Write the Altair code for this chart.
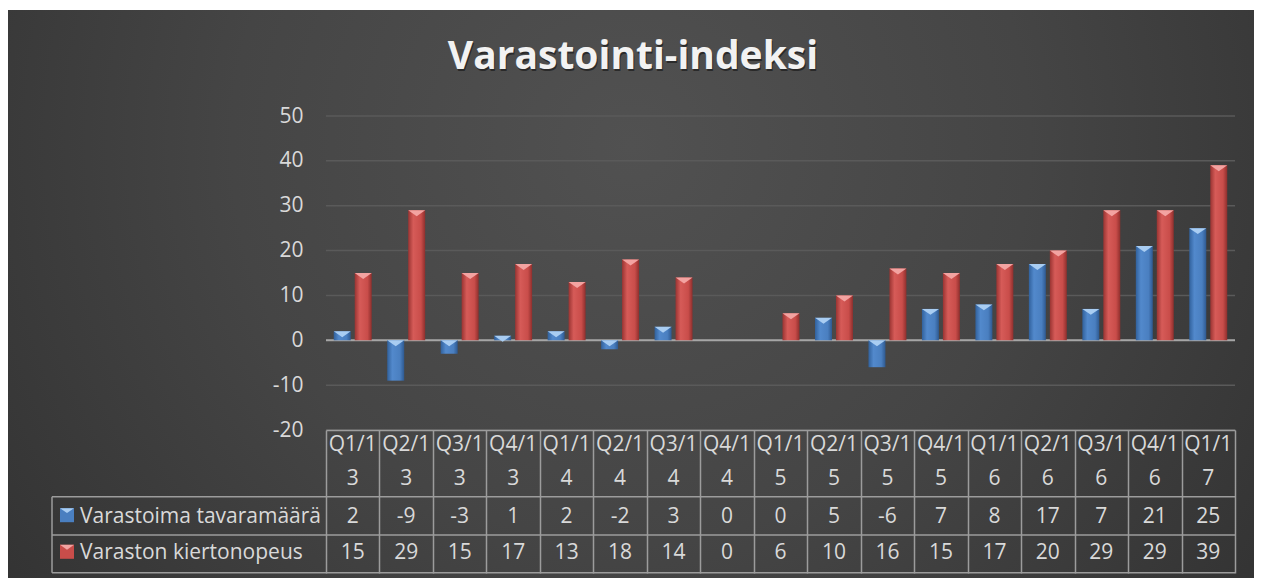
import altair as alt
import pandas as pd

# ---------------- data ----------------
quarters = ["Q1/13", "Q2/13", "Q3/13", "Q4/13", "Q1/14", "Q2/14", "Q3/14", "Q4/14",
            "Q1/15", "Q2/15", "Q3/15", "Q4/15", "Q1/16", "Q2/16", "Q3/16", "Q4/16", "Q1/17"]
stored_goods = [2, -9, -3, 1, 2, -2, 3, 0, 0, 5, -6, 7, 8, 17, 7, 21, 25]
turnover_rate = [15, 29, 15, 17, 13, 18, 14, 0, 6, 10, 16, 15, 17, 20, 29, 29, 39]
series_names = ["Varastoima tavaramäärä", "Varaston kiertonopeus"]
y_ticks = [-20, -10, 0, 10, 20, 30, 40, 50]
chart_title = "Varastointi-indeksi"

# ---------------- style / layout ----------------
FONT = "Open Sans"
TXT = "#d9d9d9"
LINE = "#9c9c9c"
GRID = "#5a5a5a"
PL, PT, W, H, PR, PB = 318, 108, 909, 314, 19, 148

df = pd.DataFrame({
    "q": quarters * 2,
    "series": [series_names[0]] * len(quarters) + [series_names[1]] * len(quarters),
    "value": stored_goods + turnover_rate,
})
df["top"] = df["value"].clip(lower=0)
df["label"] = df["value"].astype(str)
df["head1"] = df["q"].str[:4]
df["head2"] = df["q"].str[4:]
one = pd.DataFrame({"z": [0]})
grid_df = pd.DataFrame({"g": y_ticks})

base = alt.Chart(df)

x_enc = alt.X(
    "q:N", sort=None, title=None,
    scale=alt.Scale(domain=quarters, paddingInner=0, paddingOuter=0),
    axis=alt.Axis(labels=False, grid=False, domain=True, domainColor=LINE, domainWidth=1.5,
                  ticks=True, tickBand="extent", tickSize=143, tickColor=LINE, tickWidth=1.5,
                  zindex=1),
)
xo_enc = alt.XOffset("series:N", scale=alt.Scale(domain=series_names, paddingInner=0.19, paddingOuter=0.37))
y_scale = alt.Scale(domain=[-20, 50], nice=False, zero=False)
y_axis = alt.Axis(values=y_ticks, title=None, grid=False, domain=False, ticks=False, tickSize=0,
                  labelPadding=23, labelFont=FONT, labelFontSize=21, labelColor=TXT,
                  labelExpr="'' + datum.value", zindex=1)

bg_grad = alt.RadialGradient(
    gradient="radial",
    stops=[alt.GradientStop(color="#515151", offset=0),
           alt.GradientStop(color="#454545", offset=0.4),
           alt.GradientStop(color="#282828", offset=1)],
    x1=0.5, y1=0.38, r1=0, x2=0.5, y2=0.38, r2=0.8,
)
background = alt.Chart(one).mark_rect(color=bg_grad).encode(
    x=alt.value(-PL), x2=alt.value(W + PR), y=alt.value(-106), y2=alt.value(H + PB)
)

gridlines = alt.Chart(grid_df).mark_rule(color=GRID, strokeWidth=1.5).encode(
    y=alt.Y("g:Q", scale=y_scale, axis=y_axis)
)
zero_line = alt.Chart(one).mark_rule(color="#a6a6a6", strokeWidth=2).encode(
    y=alt.Y("z:Q", scale=y_scale, axis=y_axis)
)


def hgrad(dark, light, mid, dark2):
    return alt.LinearGradient(
        gradient="linear",
        stops=[alt.GradientStop(color=dark, offset=0),
               alt.GradientStop(color=light, offset=0.3),
               alt.GradientStop(color=mid, offset=0.75),
               alt.GradientStop(color=dark2, offset=1)],
        x1=0, x2=1, y1=0, y2=0,
    )


blue_grad = hgrad("#31619c", "#5289cc", "#4a7fc0", "#2e5990")
red_grad = hgrad("#9a3432", "#d65b58", "#c94d4a", "#8e2f2d")
TRI = "M-1,0L1,0L0,0.7Z"


def series_layers(i, grad, hi):
    s = series_names[i]
    bars = base.transform_filter(alt.datum.series == s).mark_bar(color=grad).encode(
        x=x_enc, xOffset=xo_enc, y=alt.Y("value:Q", scale=y_scale, axis=y_axis)
    )
    tri = base.transform_filter((alt.datum.series == s) & (alt.datum.value != 0)).mark_point(
        shape=TRI, size=289, filled=True, color=hi, opacity=1, strokeWidth=0
    ).encode(x=x_enc, xOffset=xo_enc, y=alt.Y("top:Q", scale=y_scale, axis=y_axis))
    return [bars, tri]


bar_layers = series_layers(0, blue_grad, "#a9cdf2") + series_layers(1, red_grad, "#f3a3a1")

# ---------------- data table ----------------
ROW_Y = [400.7, 437.3]
heads = base.transform_filter(alt.datum.series == series_names[0])
head1 = heads.mark_text(font=FONT, fontSize=21, color=TXT, baseline="middle").encode(
    x=x_enc, y=alt.value(329), text="head1:N")
head2 = heads.mark_text(font=FONT, fontSize=21, color=TXT, baseline="middle").encode(
    x=x_enc, y=alt.value(363.3), text="head2:N")

table_layers = [head1, head2]
legend_colors = [("#4a7fc0", "#a9cdf2"), ("#c94d4a", "#f3a3a1")]
for i, s in enumerate(series_names):
    table_layers.append(
        base.transform_filter(alt.datum.series == s).mark_text(
            font=FONT, fontSize=21, color=TXT, baseline="middle"
        ).encode(x=x_enc, y=alt.value(ROW_Y[i]), text="label:N")
    )
    table_layers.append(
        alt.Chart(one).mark_point(shape="square", size=196, filled=True, color=legend_colors[i][0],
                                  opacity=1, strokeWidth=0).encode(
            x=alt.value(-259), y=alt.value(ROW_Y[i] - 1.5))
    )
    table_layers.append(
        alt.Chart(one).mark_point(shape=TRI, size=196, filled=True, color=legend_colors[i][1],
                                  opacity=1, strokeWidth=0).encode(
            x=alt.value(-259), y=alt.value(ROW_Y[i] - 8.5))
    )
    table_layers.append(
        alt.Chart(one).mark_text(font=FONT, fontSize=21, color=TXT, align="left",
                                 baseline="middle", text=s).encode(
            x=alt.value(-246), y=alt.value(ROW_Y[i]))
    )

for yv in [380.7, 419, 456.7]:
    table_layers.append(
        alt.Chart(one).mark_rule(color=LINE, strokeWidth=1.5).encode(
            x=alt.value(-274), x2=alt.value(W), y=alt.value(yv))
    )
table_layers.append(
    alt.Chart(one).mark_rule(color=LINE, strokeWidth=1.5).encode(
        x=alt.value(-274), y=alt.value(380.7), y2=alt.value(456.7))
)

# ---------------- title ----------------
title_shadow = alt.Chart(one).mark_text(
    text=chart_title, font=FONT, fontSize=39, fontWeight="bold", color="#000000",
    opacity=0.45, align="center", baseline="alphabetic", dx=1, dy=2
).encode(x=alt.value(307), y=alt.value(-47))
title = alt.Chart(one).mark_text(
    text=chart_title, font=FONT, fontSize=39, fontWeight="bold", color="#f2f2f2",
    align="center", baseline="alphabetic"
).encode(x=alt.value(307), y=alt.value(-47))

chart = alt.layer(
    background, gridlines, zero_line, *bar_layers, *table_layers, title_shadow, title
).properties(
    width=W, height=H,
    autosize=alt.AutoSizeParams(type="none"),
    padding={"left": PL, "top": PT, "right": PR, "bottom": PB},
    background="#ffffff",
).configure_view(stroke=None)

chart.save("out.html", embed_options={"renderer": "svg", "actions": False})
